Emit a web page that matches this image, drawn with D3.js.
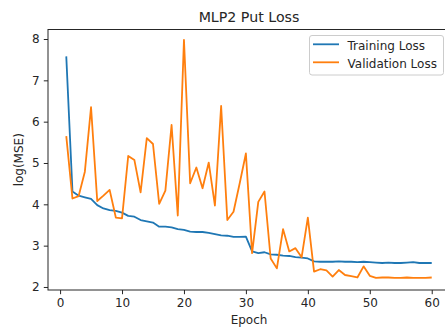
<!DOCTYPE html>
<html>
<meta charset="utf-8">
<script src="https://cdn.jsdelivr.net/npm/d3@7"></script>
<style>
  body { margin: 0; background: #fff; }
  svg text { font-family: "DejaVu Sans", sans-serif; fill: #262626; }
</style>
<body>
<div id="plot_area"></div>
<script>

var epochs = d3.range(1, 61);

var trainLoss = [7.58, 4.31, 4.21, 4.17, 4.13, 3.98, 3.90, 3.86, 3.84, 3.80,
                 3.72, 3.70, 3.62, 3.59, 3.56, 3.46, 3.46, 3.44, 3.40, 3.38,
                 3.34, 3.33, 3.33, 3.31, 3.28, 3.25, 3.24, 3.21, 3.21, 3.22,
                 2.86, 2.82, 2.84, 2.79, 2.78, 2.76, 2.75, 2.72, 2.71, 2.69,
                 2.62, 2.61, 2.61, 2.61, 2.62, 2.61, 2.61, 2.60, 2.61, 2.60,
                 2.59, 2.58, 2.59, 2.58, 2.58, 2.59, 2.60, 2.58, 2.58, 2.58];

var valLoss = [5.65, 4.14, 4.20, 4.79, 6.35, 4.08, 4.21, 4.35, 3.68, 3.66,
               5.17, 5.07, 4.29, 5.60, 5.46, 4.01, 4.33, 5.92, 3.73, 7.98,
               4.51, 4.89, 4.39, 5.01, 3.97, 6.38, 3.62, 3.82, 4.51, 5.23,
               2.82, 4.06, 4.31, 2.69, 2.45, 3.40, 2.86, 2.94, 2.72, 3.68,
               2.37, 2.43, 2.40, 2.25, 2.41, 2.29, 2.26, 2.23, 2.50, 2.27,
               2.22, 2.23, 2.23, 2.22, 2.22, 2.23, 2.22, 2.22, 2.22, 2.23];

var xTicks = [0, 10, 20, 30, 40, 50, 60];
var yTicks = [2, 3, 4, 5, 6, 7, 8];

var seriesNames = ["Training Loss", "Validation Loss"];
var seriesColors = ["#1f77b4", "#ff7f0e"];

var width = 445, height = 331;
var plotL = 48, plotR = 450, plotT = 29.5, plotB = 290;

var svg = d3.select("#plot_area")
  .append("svg")
    .attr("width", width)
    .attr("height", height);

var x = d3.scaleLinear()
  .domain([-1.95, 62.95])
  .range([plotL, plotR]);

var y = d3.scaleLinear()
  .domain([1.927, 8.23])
  .range([plotB, plotT]);

svg.append("clipPath")
    .attr("id", "clip")
  .append("rect")
    .attr("x", plotL)
    .attr("y", plotT)
    .attr("width", plotR - plotL)
    .attr("height", plotB - plotT);

// Lines
var line = function(vals) {
  return d3.line()
    .x(function(d, i) { return x(epochs[i]); })
    .y(function(d) { return y(d); })(vals);
};

[trainLoss, valLoss].forEach(function(vals, k) {
  svg.append("path")
    .attr("d", line(vals))
    .attr("fill", "none")
    .attr("stroke", seriesColors[k])
    .attr("stroke-width", 1.8)
    .attr("stroke-linejoin", "round")
    .attr("clip-path", "url(#clip)");
});

// X axis
var xAxis = svg.append("g")
  .attr("transform", "translate(0," + plotB + ")")
  .call(d3.axisBottom(x).tickValues(xTicks).tickSize(4.2).tickPadding(4).tickFormat(d3.format("d")));

// Y axis
var yAxis = svg.append("g")
  .attr("transform", "translate(" + plotL + ",0)")
  .call(d3.axisLeft(y).tickValues(yTicks).tickSize(4.2).tickPadding(4.2).tickFormat(d3.format("d")));

[xAxis, yAxis].forEach(function(a) {
  a.select(".domain").remove();
  a.selectAll("line").attr("stroke", "#262626").attr("stroke-width", 1);
  a.selectAll("text").style("font-size", "12px").attr("fill", "#262626");
});

// frame
svg.append("rect")
  .attr("x", plotL)
  .attr("y", plotT)
  .attr("width", plotR - plotL)
  .attr("height", plotB - plotT)
  .attr("fill", "none")
  .attr("stroke", "#262626")
  .attr("stroke-width", 1);

// Title and labels
svg.append("text")
  .attr("x", (plotL + plotR) / 2)
  .attr("y", 21.5)
  .attr("text-anchor", "middle")
  .style("font-size", "14.2px")
  .text("MLP2 Put Loss");

svg.append("text")
  .attr("x", (plotL + plotR) / 2)
  .attr("y", 323.5)
  .attr("text-anchor", "middle")
  .style("font-size", "12px")
  .text("Epoch");

svg.append("text")
  .attr("transform", "translate(23," + ((plotT + plotB) / 2) + ") rotate(-90)")
  .attr("text-anchor", "middle")
  .style("font-size", "12px")
  .text("log(MSE)");

// Legend
var legend = svg.append("g");
legend.append("rect")
  .attr("x", 309.5)
  .attr("y", 35.5)
  .attr("width", 134)
  .attr("height", 39.5)
  .attr("rx", 2.5)
  .attr("fill", "#fff")
  .attr("fill-opacity", 0.8)
  .attr("stroke", "#cccccc")
  .attr("stroke-width", 1);

seriesNames.forEach(function(name, i) {
  var ly = 44.3 + i * 18;
  legend.append("line")
    .attr("x1", 313).attr("x2", 339)
    .attr("y1", ly).attr("y2", ly)
    .attr("stroke", seriesColors[i])
    .attr("stroke-width", 1.8);
  legend.append("text")
    .attr("x", 347.5)
    .attr("y", ly + 5.5)
    .style("font-size", "12px")
    .text(name);
});

</script>
</body>
</html>
